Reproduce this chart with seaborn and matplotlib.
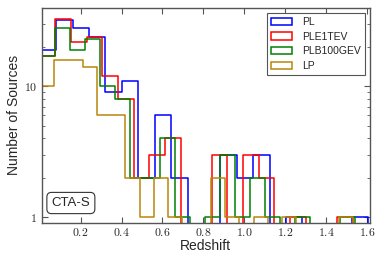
import numpy as np
import pandas as pd
import seaborn as sns
import matplotlib.pyplot as plt
from matplotlib.patches import Patch
from matplotlib.ticker import FixedLocator, NullFormatter, FuncFormatter

# Data: redshift histograms, every model binned from z=0 with its own bin width
models = ['PL', 'PLE1TEV', 'PLB100GEV', 'LP']
colors = ['blue', 'red', 'green', 'darkgoldenrod']
bin_width = [0.0803, 0.0765, 0.0734, 0.0697]

counts_pl = [19, 32, 28, 24, 9, 11, 2, 6, 2, 0, 0, 3, 2, 3, 0, 1, 0, 0, 0, 1]
counts_ple1tev = [17, 33, 22, 24, 12, 8, 2, 3, 4, 0, 0, 3, 0, 3, 2, 0, 1, 0, 0, 1]
counts_plb100gev = [17, 28, 19, 23, 10, 8, 2, 2, 4, 1, 0, 1, 3, 1, 2, 1, 0, 1, 0, 0, 1]
counts_lp = [10, 16, 16, 14, 6, 6, 2, 1, 2, 1, 0, 0, 2, 1, 0, 1, 0, 1, 0, 0, 0, 1]
all_counts = [counts_pl, counts_ple1tev, counts_plb100gev, counts_lp]

sns.set_style("ticks", {"xtick.direction": "in", "ytick.direction": "in"})
plt.rcParams['font.family'] = ['Liberation Sans', 'DejaVu Sans']
plt.rcParams['mathtext.fontset'] = 'cm'

fig = plt.figure(figsize=(3.82, 2.54), dpi=100)
ax = fig.add_axes([0.109, 0.122, 0.86, 0.848])

for name, col, w, cnt in zip(models, colors, bin_width, all_counts):
    n = len(cnt)
    # one extra empty bin so the outline drops back to the baseline
    edges = [k * w for k in range(n + 2)]
    df = pd.DataFrame({'z': [e + w / 2 for e in edges[:-1]], 'n': list(cnt) + [0]})
    sns.histplot(data=df, x='z', weights='n', bins=edges, element="step",
                 fill=False, color=col, linewidth=1.1, ax=ax)

ax.set_yscale('log')
ax.set_xlim(0.009, 1.616)
ax.set_ylim(0.9, 40)

ax.xaxis.set_major_locator(FixedLocator([0.2, 0.4, 0.6, 0.8, 1.0, 1.2, 1.4, 1.6]))
ax.xaxis.set_major_formatter(FuncFormatter(lambda v, p: f"${v:.1f}$"))
ax.yaxis.set_major_locator(FixedLocator([1, 10]))
ax.yaxis.set_major_formatter(FuncFormatter(lambda v, p: f"${v:.0f}$"))
ax.yaxis.set_minor_locator(FixedLocator([2, 3, 4, 5, 6, 7, 8, 9, 20, 30]))
ax.yaxis.set_minor_formatter(NullFormatter())
ax.tick_params(which='both', top=True, right=True, color='#555555')
ax.tick_params(which='major', length=4, width=0.8, labelsize=8.5, pad=3)
ax.tick_params(which='minor', length=2, width=0.6)
for s in ax.spines.values():
    s.set_color('#555555')
    s.set_linewidth(1.0)

ax.set_xlabel('Redshift', fontsize=10, labelpad=0)
ax.set_ylabel('Number of Sources', fontsize=10, labelpad=2)

handles = [Patch(facecolor='none', edgecolor=c, linewidth=1.1) for c in colors]
leg = ax.legend(handles, models, loc='upper right', fontsize=7.5, frameon=True,
                fancybox=False, framealpha=1, edgecolor='#555555',
                handlelength=2.0, handletextpad=1.0, labelspacing=0.45,
                borderaxespad=0.5)
leg.get_frame().set_linewidth(0.8)

ax.text(0.03, 0.065, 'CTA-S', transform=ax.transAxes, fontsize=9.5,
        ha='left', va='bottom',
        bbox=dict(boxstyle='round,pad=0.35', facecolor='white', edgecolor='#333333', linewidth=0.8))

plt.savefig('out.png', dpi=100)
